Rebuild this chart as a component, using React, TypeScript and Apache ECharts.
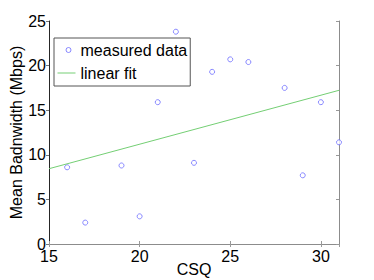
import React, { useEffect, useRef } from "react";
import * as echarts from "echarts";

const csq = [16, 17, 19, 20, 21, 22, 23, 24, 25, 26, 28, 29, 30, 31];
const bandwidth = [8.6, 2.4, 8.8, 3.1, 15.9, 23.8, 9.1, 19.3, 20.7, 20.4, 17.5, 7.7, 15.9, 11.4];
const fitX = [15, 31];
const fitY = [8.44, 17.23];

const BLUE = "#6b6bff";
const GREEN = "#74cf74";
const FONT = "'Liberation Sans', Arial, Helvetica, sans-serif";

export default function App() {
  const ref = useRef<HTMLDivElement>(null);
  useEffect(() => {
    if (!ref.current) return;
    const chart = echarts.init(ref.current, undefined, { renderer: "svg" });
    const tickLabel = { color: "#000", fontSize: 16, fontFamily: FONT };
    chart.setOption({
      animation: false,
      backgroundColor: "#fff",
      grid: {
        left: 49,
        top: 21,
        width: 290,
        height: 223,
        containLabel: false,
        outerBoundsMode: "none",
      },
      legend: {
        orient: "vertical",
        left: 54,
        top: 38,
        padding: [4, 3, 5, 3],
        borderColor: "#555",
        borderWidth: 1,
        backgroundColor: "#fff",
        itemGap: 7,
        itemWidth: 18,
        itemHeight: 14,
        selectedMode: false,
        textStyle: { color: "#000", fontSize: 16, fontFamily: FONT, lineHeight: 14 },
        data: [
          {
            name: "measured data",
            icon: "path://M0,0M18,14M8.5,7A2.5,2.5,0,1,1,13.5,7A2.5,2.5,0,1,1,8.5,7Z",
            itemStyle: { color: "#fff", borderColor: BLUE, borderWidth: 1 },
          },
          {
            name: "linear fit",
            icon: "path://M0,0M18,14M0,6.5L18,6.5L18,7.5L0,7.5Z",
            itemStyle: { color: GREEN, borderWidth: 0 },
          },
        ],
      },
      xAxis: [
        {
          type: "value",
          min: 15,
          max: 31,
          interval: 5,
          position: "bottom",
          name: "CSQ",
          nameLocation: "middle",
          nameGap: 17,
          nameMoveOverlap: false,
          nameTextStyle: { color: "#000", fontSize: 16, fontFamily: FONT },
          axisLine: { show: true, lineStyle: { color: "#262626", width: 1 } },
          axisTick: { show: true, inside: true, length: 3, lineStyle: { color: "#999" } },
          axisLabel: { ...tickLabel, margin: 4, showMaxLabel: false },
          splitLine: { show: false },
        },
        {
          type: "value",
          min: 15,
          max: 31,
          interval: 5,
          position: "top",
          axisLine: { show: true, lineStyle: { color: "#8c8c8c", width: 1 } },
          axisTick: { show: true, inside: true, length: 3, lineStyle: { color: "#999" } },
          axisLabel: { show: false },
          splitLine: { show: false },
        },
      ],
      yAxis: [
        {
          type: "value",
          min: 0,
          max: 25,
          interval: 5,
          position: "left",
          name: "Mean Badnwidth (Mbps)",
          nameLocation: "middle",
          nameGap: 25,
          nameMoveOverlap: false,
          nameTextStyle: { color: "#000", fontSize: 16, fontFamily: FONT },
          axisLine: { show: true, lineStyle: { color: "#262626", width: 1 } },
          axisTick: { show: true, inside: false, length: 3, lineStyle: { color: "#777" } },
          axisLabel: { ...tickLabel, margin: 3 },
          splitLine: { show: false },
        },
        {
          type: "value",
          min: 0,
          max: 25,
          interval: 5,
          position: "right",
          axisLine: { show: true, lineStyle: { color: "#8c8c8c", width: 1 } },
          axisTick: { show: true, inside: true, length: 3, lineStyle: { color: "#999" } },
          axisLabel: { show: false },
          splitLine: { show: false },
        },
      ],
      series: [
        {
          name: "measured data",
          type: "scatter",
          xAxisIndex: 0,
          yAxisIndex: 0,
          symbol: "circle",
          symbolSize: 5,
          itemStyle: { color: "#fff", borderColor: BLUE, borderWidth: 1 },
          data: csq.map((x, i) => [x, bandwidth[i]]),
        },
        {
          name: "linear fit",
          type: "line",
          xAxisIndex: 0,
          yAxisIndex: 0,
          symbol: "none",
          showSymbol: false,
          lineStyle: { color: GREEN, width: 1 },
          itemStyle: { color: GREEN },
          data: fitX.map((x, i) => [x, fitY[i]]),
        },
      ],
    });
    return () => chart.dispose();
  }, []);
  return (
    <div
      ref={ref}
      style={{ position: "absolute", left: 0, top: 0, width: 374, height: 280 }}
    />
  );
}
